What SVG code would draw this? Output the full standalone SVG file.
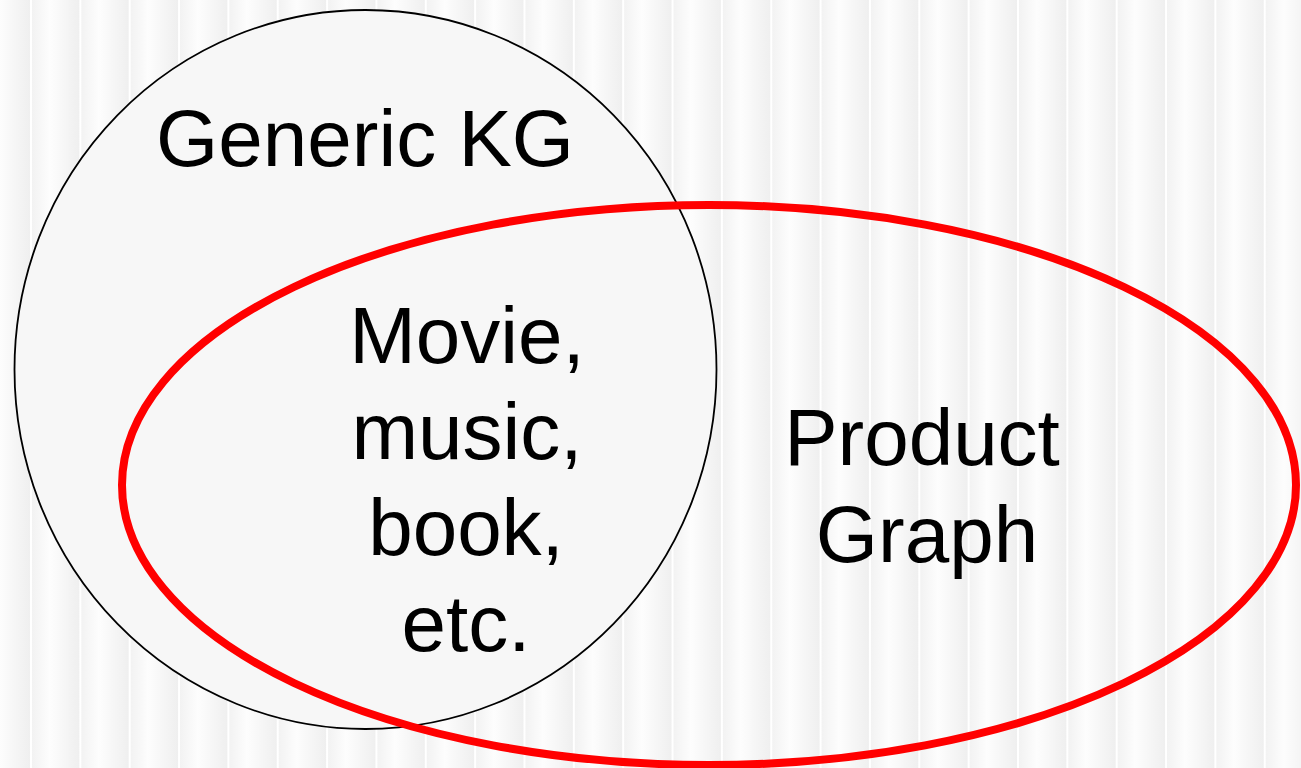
<svg xmlns="http://www.w3.org/2000/svg" width="1301" height="768" viewBox="0 0 1301 768">
<defs>
<linearGradient id="stripeGrad" x1="0" y1="0" x2="1" y2="0">
<stop offset="0" stop-color="#f1f1f1"/>
<stop offset="0.4" stop-color="#fdfdfd"/>
<stop offset="1" stop-color="#efefef"/>
</linearGradient>
<pattern id="stripes" patternUnits="userSpaceOnUse" x="30" y="0" width="49.35" height="768">
<rect x="0" y="0" width="49.35" height="768" fill="url(#stripeGrad)"/>
<rect x="0" y="0" width="2" height="768" fill="#ffffff"/>
</pattern>
<style>
.lbl{font-family:"Liberation Sans",Arial,sans-serif;font-size:80px;fill:#000;text-anchor:middle}
</style>
</defs>
<rect x="0" y="0" width="1301" height="768" fill="url(#stripes)"/>
<g id="generic-kg">
<ellipse cx="365.5" cy="369.5" rx="351" ry="359.5" fill="#f7f7f7" stroke="#000" stroke-width="1.8"/>
<text class="lbl" x="365" y="166">Generic KG</text>
</g>
<g id="product-graph">
<ellipse cx="709" cy="485" rx="587" ry="280" fill="none" stroke="#ff0000" stroke-width="8"/>
<text class="lbl" x="922" y="465">Product</text>
<text class="lbl" x="927" y="562">Graph</text>
</g>
<g id="overlap">
<text class="lbl" x="467" y="363">Movie,</text>
<text class="lbl" x="467" y="459">music,</text>
<text class="lbl" x="466" y="555">book,</text>
<text class="lbl" x="466" y="651">etc.</text>
</g>
<g id="connectors"></g>
</svg>
